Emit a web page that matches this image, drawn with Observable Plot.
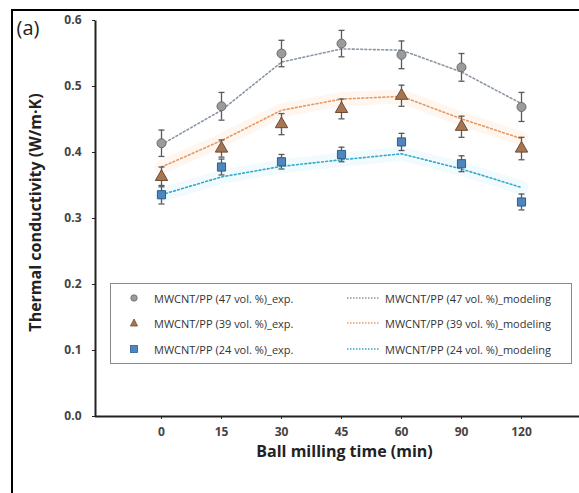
<!DOCTYPE html>
<html>
<head>
<meta charset="utf-8">
<script src="https://cdn.jsdelivr.net/npm/d3@7"></script>
<script src="https://cdn.jsdelivr.net/npm/@observablehq/plot@0.6"></script>
<style>
  body { margin: 0; background: #fff; font-family: "Open Sans", sans-serif; }
  #wrap { position: relative; width: 579px; height: 493px; overflow: hidden; }
  #border { position: absolute; left: 11px; top: 9px; width: 580px; height: 500px; border-left: 2px solid #000; border-top: 2px solid #000; }
  #chart { position: absolute; left: 0; top: 0; }
  #legend { position: absolute; left: 110px; top: 283px; width: 460px; height: 79px; border: 1px solid #8a8a8a; background: #fff; font-size: 11px; color: #333; }
  .row { position: absolute; display: flex; align-items: center; height: 16px; }
  .row svg { flex: none; }
</style>
</head>
<body>
<div id="wrap">
  <div id="border"></div>
  <div id="chart"></div>
  <div id="legend"></div>
</div>
<script>
// ---- data ----
const times = ["0", "15", "30", "45", "60", "90", "120"];
const exp47 = [0.414, 0.470, 0.550, 0.565, 0.548, 0.529, 0.469];
const err47 = [0.020, 0.021, 0.020, 0.020, 0.021, 0.021, 0.022];
const exp39 = [0.363, 0.406, 0.443, 0.466, 0.486, 0.439, 0.406];
const err39 = [0.015, 0.013, 0.016, 0.015, 0.016, 0.016, 0.017];
const exp24 = [0.336, 0.378, 0.386, 0.397, 0.416, 0.383, 0.325];
const err24 = [0.014, 0.012, 0.011, 0.011, 0.013, 0.012, 0.012];
const mod47 = [0.412, 0.464, 0.537, 0.557, 0.555, 0.522, 0.474];
const mod39 = [0.378, 0.418, 0.464, 0.481, 0.485, 0.451, 0.421];
const mod24 = [0.336, 0.363, 0.379, 0.389, 0.398, 0.375, 0.347];
const yTicks = [0, 0.1, 0.2, 0.3, 0.4, 0.5, 0.6];
const seriesNames = ["MWCNT/PP (47 vol. %)", "MWCNT/PP (39 vol. %)", "MWCNT/PP (24 vol. %)"];

const styles = [
  {fill: "#9b9b9b", stroke: "#6a6a6a", symbol: "circle", r: 4.5, line: "#8a96a3", band: null},
  {fill: "#a67653", stroke: "#6e4a30", symbol: "triangle", r: 4.6, line: "#e59a64", band: "#f6b27a"},
  {fill: "#4f86bd", stroke: "#2d5d8e", symbol: "square", r: 4.6, line: "#35a8cc", band: "#8fd6f0"}
];

const expSets = [exp47, exp39, exp24];
const errSets = [err47, err39, err24];
const modSets = [mod47, mod39, mod24];

const expData = expSets.flatMap((vals, s) => vals.map((v, i) => ({s, t: times[i], v, lo: v - errSets[s][i], hi: v + errSets[s][i]})));
const modData = modSets.flatMap((vals, s) => vals.map((v, i) => ({s, t: times[i], v})));

const capSymbol = {
  draw(ctx, size) {
    const r = Math.sqrt(size / Math.PI);
    ctx.moveTo(-r, 0);
    ctx.lineTo(r, 0);
  }
};

const W = 579, H = 493, mL = 95, mR = 0, mT = 20, mB = 77;
const fw = W - mL - mR, fh = H - mT - mB;

const marks = [];
modSets.forEach((vals, s) => {
  const d = modData.filter(r => r.s === s);
  if (styles[s].band) marks.push(Plot.line(d, {x: "t", y: "v", stroke: styles[s].band, strokeWidth: 14, strokeOpacity: 0.12}));
});
modSets.forEach((vals, s) => {
  const d = modData.filter(r => r.s === s);
  marks.push(Plot.line(d, {x: "t", y: "v", stroke: styles[s].line, strokeWidth: 1.6, strokeDasharray: "1.8,2.4"}));
});
marks.push(Plot.ruleX(expData, {x: "t", y1: "lo", y2: "hi", stroke: "#5a5a5a", strokeWidth: 1.3}));
marks.push(Plot.dot(expData, {x: "t", y: "lo", symbol: capSymbol, r: 3, stroke: "#5a5a5a", strokeWidth: 1.3}));
marks.push(Plot.dot(expData, {x: "t", y: "hi", symbol: capSymbol, r: 3, stroke: "#5a5a5a", strokeWidth: 1.3}));
expSets.forEach((vals, s) => {
  const d = expData.filter(r => r.s === s);
  marks.push(Plot.dot(d, {x: "t", y: "v", symbol: styles[s].symbol, r: styles[s].r, fill: styles[s].fill, stroke: styles[s].stroke, strokeWidth: 1}));
});

const chart = Plot.plot({
  width: W,
  height: H,
  marginLeft: mL,
  marginRight: mR,
  marginTop: mT,
  marginBottom: mB,
  style: {fontFamily: "'Open Sans', sans-serif", background: "transparent", overflow: "visible"},
  x: {type: "point", domain: times, range: [129, 552]},
  y: {domain: [0, 0.6]},
  marks: [
    Plot.ruleY([0], {stroke: "#222", strokeWidth: 2}),
    // left edge only of the frame (top, right, bottom edges skipped by the dash pattern)
    Plot.frame({stroke: "#222", strokeWidth: 2, strokeDasharray: `0 ${2 * fw + fh} ${fh} 0`}),
    Plot.axisY({ticks: yTicks, tickFormat: d3.format(".1f"), tickSize: 3, tickPadding: 11, label: null, fontSize: 12, fontWeight: "bold", color: "#444", stroke: "#222"}),
    Plot.axisX({tickSize: 3, tickPadding: 8, label: null, fontSize: 12, fontWeight: "bold", color: "#444", stroke: "#222"}),
    Plot.text(["Thermal conductivity (W/m·K)"], {frameAnchor: "left", textAnchor: "middle", rotate: -90, dx: -60, dy: -6, fontSize: 16, fontWeight: "bold", fill: "#222"}),
    Plot.text(["Ball milling time (min)"], {frameAnchor: "bottom", dx: 7, dy: 40, fontSize: 16, fontWeight: "bold", fill: "#222"}),
    Plot.text(["(a)"], {frameAnchor: "top-left", textAnchor: "start", dx: -79, dy: 0, fontSize: 20, fill: "#222"}),
    ...marks
  ]
});
document.getElementById("chart").append(chart);

const legend = document.getElementById("legend");
const rowTops = [6, 31, 57];
function symbolSvg(s) {
  const st = styles[s];
  let shape;
  if (st.symbol === "circle") shape = `<circle cx="7" cy="8" r="3.2" fill="${st.fill}" stroke="${st.stroke}" stroke-width="0.8"/>`;
  else if (st.symbol === "triangle") shape = `<path d="M7,4 L10.5,11 L3.5,11 Z" fill="${st.fill}" stroke="${st.stroke}" stroke-width="0.8"/>`;
  else shape = `<rect x="3.5" y="4.5" width="7" height="7" fill="${st.fill}" stroke="${st.stroke}" stroke-width="0.8"/>`;
  return `<svg width="14" height="16">${shape}</svg>`;
}
seriesNames.forEach((name, s) => {
  const left = document.createElement("div");
  left.className = "row";
  left.style.left = "16px";
  left.style.top = rowTops[s] + "px";
  left.innerHTML = symbolSvg(s) + `<span style="margin-left:13px">${name}_exp.</span>`;
  legend.append(left);
  const right = document.createElement("div");
  right.className = "row";
  right.style.left = "236px";
  right.style.top = rowTops[s] + "px";
  right.innerHTML = `<svg width="32" height="16"><line x1="0" y1="8" x2="32" y2="8" stroke="${styles[s].line}" stroke-width="1.5" stroke-dasharray="1.5,1.5"/></svg><span style="margin-left:6px">${name}_modeling</span>`;
  legend.append(right);
});
</script>
</body>
</html>
